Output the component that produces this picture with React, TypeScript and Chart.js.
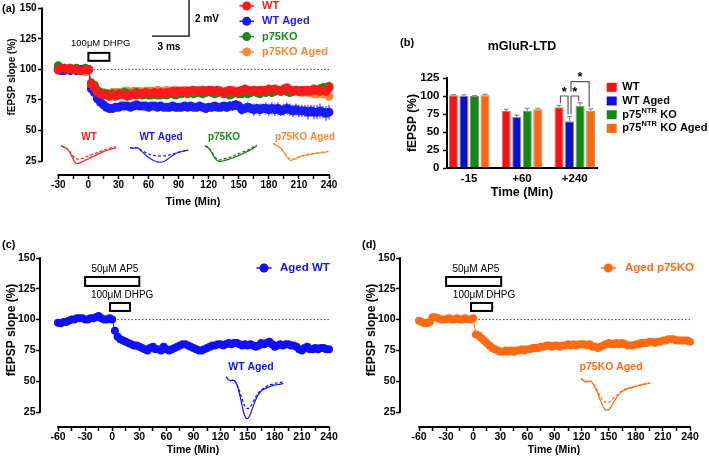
import React, { useEffect, useRef } from 'react';
import { Chart, registerables } from 'chart.js';

Chart.register(...registerables);

const FONT = '"Liberation Sans", Arial, Helvetica, sans-serif';

// ================= Panel (a): time course, four groups =================
const timeA = [-30, -27, -24, -21, -18, -15, -12, -9, -6, -3, 0, 3, 6, 9, 12, 15, 18, 21, 24, 27, 30, 33, 36, 39, 42, 45, 48, 51, 54, 57, 60, 63, 66, 69, 72, 75, 78, 81, 84, 87, 90, 93, 96, 99, 102, 105, 108, 111, 114, 117, 120, 123, 126, 129, 132, 135, 138, 141, 144, 147, 150, 153, 156, 159, 162, 165, 168, 171, 174, 177, 180, 183, 186, 189, 192, 195, 198, 201, 204, 207, 210, 213, 216, 219, 222, 225, 228, 231, 234, 237, 240];
const wtA = [100, 101, 101, 100, 101, 100, 100, 99, 99, 100, 100,
  88, 85, 81, 80, 79, 79, 78, 79, 78, 79,
  80, 79, 78, 79, 80, 79, 80, 80, 81, 80,
  80, 81, 80, 81, 80, 81, 81, 82, 81, 82,
  82, 81, 82, 82, 83, 82, 82, 83, 82, 83,
  83, 82, 83, 82, 80, 82, 83, 82, 81, 82,
  83, 84, 83, 82, 83, 82, 83, 82, 83, 84,
  83, 84, 83, 82, 84, 85, 83, 82, 83, 82,
  83, 82, 83, 82, 83, 83, 82, 83, 82, 85];
const wtAgedA = [100, 99, 99, 100, 99, 100, 99, 99, 100, 100, 100,
  84, 81, 76, 73, 71, 69, 68, 68, 69, 69,
  70, 70, 70, 69, 70, 71, 70, 70, 70, 69,
  70, 70, 69, 70, 69, 69, 69, 70, 69, 69,
  69, 70, 69, 70, 69, 69, 70, 69, 68, 69,
  69, 70, 69, 69, 70, 69, 70, 70, 71, 70,
  67, 68, 69, 68, 67, 68, 67, 68, 68, 67,
  68, 67, 68, 66, 67, 68, 67, 66, 67, 66,
  66, 66, 65, 66, 65, 65, 66, 65, 64, 65];
const p75A = [103, 101, 101, 100, 101, 100, 101, 100, 100, 101, 100,
  89, 87, 83, 81, 80, 80, 79, 80, 79, 80,
  80, 81, 80, 79, 80, 81, 80, 79, 80, 79,
  79, 80, 79, 79, 80, 79, 80, 80, 79, 80,
  80, 81, 80, 81, 80, 81, 81, 80, 81, 82,
  81, 80, 81, 82, 81, 80, 79, 80, 81, 80,
  80, 81, 80, 81, 82, 81, 80, 82, 81, 82,
  81, 82, 83, 82, 83, 82, 81, 82, 83, 82,
  82, 83, 82, 83, 84, 83, 84, 85, 85, 86];
const p75AgedA = [99, 100, 100, 100, 99, 100, 99, 100, 99, 98, 99,
  86, 83, 80, 80, 81, 80, 80, 81, 81, 81,
  81, 82, 82, 81, 82, 82, 82, 81, 82, 82,
  82, 82, 83, 82, 82, 83, 82, 82, 83, 82,
  82, 83, 82, 83, 82, 82, 83, 82, 82, 83,
  82, 82, 83, 82, 81, 82, 82, 83, 82, 82,
  82, 83, 82, 82, 83, 82, 82, 83, 82, 82,
  82, 83, 83, 82, 83, 82, 82, 83, 82, 82,
  81, 82, 81, 81, 80, 80, 81, 80, 80, 78];
const wtSemA = [1, 1, 1, 1, 1, 1, 1, 1, 1, 1, 1,
  3, 3, 2, 2, 2, 2, 2, 2, 2, 2,
  2, 2, 2, 2, 2, 2, 2, 2, 2, 2,
  2, 2, 2, 2, 2, 2, 2, 2, 2, 2,
  2, 2, 2, 2, 3, 2, 2, 2, 2, 3,
  2, 3, 2, 3, 3, 2, 3, 2, 3, 3,
  3, 3, 3, 3, 3, 3, 3, 3, 3, 3,
  3, 3, 3, 3, 3, 3, 3, 3, 3, 3,
  3, 3, 3, 3, 3, 3, 3, 3, 4, 4];
const wtAgedSemA = [1.5, 1.5, 1.5, 1.5, 1.5, 1.5, 1.5, 1.5, 1.5, 1.5, 1.5,
  3, 3, 3, 3, 3, 3, 3, 3, 3, 3,
  3, 3, 3, 3, 3, 3, 3, 3, 3, 3,
  3, 3, 3, 3, 3, 3, 3, 3, 3, 3,
  3, 3, 3, 3, 3, 3, 3, 3, 3, 3,
  3, 3, 3, 3, 3, 4, 4, 4, 4, 4,
  4, 4, 4, 4, 5, 4, 5, 4, 5, 5,
  5, 5, 5, 4, 5, 5, 5, 5, 5, 5,
  5, 5, 6, 5, 6, 6, 6, 5, 6, 6];
const p75SemA = [2, 1.5, 1.5, 1.5, 1.5, 1.5, 1.5, 1.5, 1.5, 1.5, 1.5,
  3, 3, 3, 2, 2, 2, 2, 2, 2, 2,
  2, 2, 2, 2, 2, 2, 2, 2, 2, 2,
  2, 2, 2, 2, 2, 2, 2, 2, 2, 2,
  2, 2, 2, 2, 2, 2, 2, 2, 2, 2,
  2, 2, 2, 2, 2, 2, 3, 3, 3, 3,
  3, 3, 3, 3, 3, 3, 3, 3, 3, 3,
  3, 3, 3, 3, 3, 3, 3, 3, 3, 3,
  3, 3, 3, 3, 3, 3, 4, 4, 4, 4];
const p75AgedSemA = [1.5, 1.5, 1.5, 1.5, 1.5, 1.5, 1.5, 1.5, 1.5, 1.5, 1.5,
  3, 3, 2, 2, 2, 2, 2, 2, 2, 2,
  2, 2, 2, 2, 2, 2, 2, 2, 2, 2,
  2, 2, 2, 2, 2, 2, 2, 2, 2, 2,
  2, 2, 2, 2, 2, 2, 2, 2, 2, 2,
  2, 2, 2, 2, 2, 2, 2, 2, 2, 2,
  2, 2, 2, 2, 2, 2, 2, 2, 2, 2,
  2, 2, 2, 2, 2, 2, 2, 2, 2, 2,
  2, 2, 2, 2, 3, 3, 3, 3, 3, 3];

// ================= Panel (b): bar summary =================
const groupsB = ['-15', '+60', '+240'];
const barWT = [101, 79, 84.5];
const barWTAged = [100.5, 71, 65];
const barP75 = [100, 80, 86.5];
const barP75Aged = [101, 81.5, 79.5];
const errWT = [1, 2.5, 2.5];
const errWTAged = [1, 2.5, 6.5];
const errP75 = [0.5, 3, 4];
const errP75Aged = [1.2, 1.5, 2.5];
const sigGroup = 2;
const sigLeft = [0, 1, 1];
const sigRight = [1, 2, 3];
const sigHeight = [100, 100, 120];

// ================= Panels (c), (d): aged time courses with AP5 =================
const timeCD = [-60, -57, -54, -51, -48, -45, -42, -39, -36, -33, -30, -27, -24, -21, -18, -15, -12, -9, -6, -3, 0, 3, 6, 9, 12, 15, 18, 21, 24, 27, 30, 33, 36, 39, 42, 45, 48, 51, 54, 57, 60, 63, 66, 69, 72, 75, 78, 81, 84, 87, 90, 93, 96, 99, 102, 105, 108, 111, 114, 117, 120, 123, 126, 129, 132, 135, 138, 141, 144, 147, 150, 153, 156, 159, 162, 165, 168, 171, 174, 177, 180, 183, 186, 189, 192, 195, 198, 201, 204, 207, 210, 213, 216, 219, 222, 225, 228, 231, 234, 237, 240];
const agedWtC = [97.5, 97, 98, 98, 99, 100, 100, 101, 101, 101, 100, 100, 101, 101, 102, 103, 101, 100, 100, 101, 100,
  91, 86, 84, 83, 82, 81, 80, 79, 79, 78,
  77, 76, 75, 77, 78, 76, 76, 75, 78, 76,
  75, 76, 77, 78, 79, 80, 80, 79, 78, 77,
  76, 75, 75, 76, 77, 78, 79, 79, 80, 80,
  79, 80, 81, 80, 81, 81, 80, 79, 80, 79,
  80, 79, 78, 79, 81, 80, 81, 82, 80, 78,
  79, 80, 79, 80, 80, 79, 79, 78, 76, 75,
  77, 78, 76, 76, 77, 76, 77, 77, 76, 76];
const agedP75D = [99, 98, 97, 97, 98, 102, 102, 101, 100, 100, 100, 101, 100, 100, 101, 100, 100, 101, 100, 100, 101,
  88, 87, 85, 83, 81, 79, 77, 76, 75, 74,
  74, 75, 74, 75, 74, 75, 75, 76, 75, 76,
  76, 77, 77, 77, 78, 78, 79, 79, 78, 79,
  79, 78, 79, 79, 80, 79, 80, 79, 80, 80,
  80, 79, 80, 78, 78, 77, 78, 79, 80, 81,
  80, 80, 81, 80, 81, 80, 79, 79, 79, 80,
  80, 81, 81, 81, 82, 82, 81, 82, 82, 83,
  83, 84, 84, 84, 83, 83, 83, 83, 83, 82];

// ================= ticks =================
const yTicksTC = [25, 50, 75, 100, 125, 150];
const xTicksA = [-30, -15, 0, 15, 30, 45, 60, 75, 90, 105, 120, 135, 150, 165, 180, 195, 210, 225, 240];
const xTicksCD = [-60, -45, -30, -15, 0, 15, 30, 45, 60, 75, 90, 105, 120, 135, 150, 165, 180, 195, 210, 225, 240];
const yTicksB = [0, 25, 50, 75, 100, 125];

// ================= representative fEPSP traces (normalised amplitude) =================
const trWTBase = [0, -0.09, -0.18, -0.51, -0.95, -0.98, -0.89, -0.8, -0.71, -0.62, -0.53, -0.44, -0.35, -0.27, -0.22, -0.16, -0.11];
const trWTLtd = [0, -0.09, -0.18, -0.45, -0.67, -0.75, -0.71, -0.64, -0.56, -0.49, -0.42, -0.35, -0.27, -0.2, -0.15, -0.09, -0.05];
const trWTAgedBase = [-0.06, -0.13, -0.02, -0.26, -0.47, -0.68, -0.83, -0.94, -1, -0.98, -0.87, -0.68, -0.51, -0.38, -0.32, -0.26, -0.21];
const trWTAgedLtd = [-0.06, -0.13, -0.02, -0.21, -0.34, -0.45, -0.53, -0.57, -0.6, -0.6, -0.57, -0.51, -0.45, -0.38, -0.32, -0.26, -0.21];
const trP75Base = [0, -0.1, -0.38, -0.79, -1, -0.98, -0.94, -0.88, -0.81, -0.73, -0.65, -0.56, -0.48, -0.38, -0.27, -0.15, 0];
const trP75Ltd = [0, -0.1, -0.33, -0.71, -0.9, -0.88, -0.83, -0.77, -0.71, -0.63, -0.54, -0.46, -0.38, -0.29, -0.19, -0.08, 0.04];
const trP75AgedBase = [0, -0.15, -0.21, -0.49, -0.81, -1, -0.92, -0.83, -0.75, -0.7, -0.66, -0.62, -0.58, -0.57, -0.53, -0.51, -0.47];
const trP75AgedLtd = [0, -0.15, -0.21, -0.45, -0.75, -0.92, -0.87, -0.79, -0.72, -0.66, -0.62, -0.58, -0.57, -0.53, -0.51, -0.49, -0.45];
const trCBase = [0, -0.11, -0.06, -0.15, -0.45, -0.87, -0.98, -0.82, -0.57, -0.39, -0.31, -0.26, -0.23, -0.2, -0.18, -0.17, -0.15];
const trCLtd = [0, -0.11, -0.06, -0.14, -0.38, -0.64, -0.74, -0.67, -0.49, -0.36, -0.29, -0.23, -0.19, -0.17, -0.14, -0.13, -0.11];
const trDBase = [0, -0.15, -0.05, -0.2, -0.5, -0.85, -1, -0.85, -0.6, -0.45, -0.35, -0.3, -0.27, -0.23, -0.2, -0.17, -0.15];
const trDLtd = [0, -0.15, -0.05, -0.18, -0.43, -0.67, -0.75, -0.67, -0.53, -0.42, -0.33, -0.29, -0.26, -0.22, -0.19, -0.16, -0.14];

// ================= colours =================
const RED = '#ff1a1a';
const BLUE = '#1a1aff';
const GREEN = '#1a8a1a';
const ORANGE = '#ff8533';
const BAR_RED = '#ff1010';
const BAR_BLUE = '#1010cc';
const BAR_GREEN = '#118a11';
const BAR_ORANGE = '#ff6610';
const BLUE_C = '#1010ff';
const ORANGE_D = '#ff6a12';

// ================= drawing helpers =================
function drawText(ctx: CanvasRenderingContext2D, s: string, x: number, y: number, size: number, o: any = {}) {
  ctx.save();
  ctx.font = `${o.weight ?? 'bold'} ${size}px ${FONT}`;
  ctx.fillStyle = o.color ?? '#000';
  ctx.textAlign = o.align ?? 'center';
  ctx.textBaseline = o.baseline ?? 'middle';
  ctx.translate(x, y);
  if (o.rotate) ctx.rotate(o.rotate);
  ctx.fillText(s, 0, 0);
  ctx.restore();
}

function drawTrace(ctx: CanvasRenderingContext2D, xs: any, ys: any, vals: number[], x0: number, x1: number, yTop: number, yBot: number, color: string, dashed: boolean) {
  const pts = vals.map((v, i) => [
    xs.getPixelForValue(x0 + ((x1 - x0) * i) / (vals.length - 1)),
    ys.getPixelForValue(yTop + v * (yTop - yBot)),
  ]);
  ctx.save();
  ctx.strokeStyle = color;
  ctx.lineWidth = 1.2;
  ctx.setLineDash(dashed ? [3, 2] : []);
  ctx.beginPath();
  ctx.moveTo(pts[0][0], pts[0][1]);
  for (let i = 1; i < pts.length - 1; i++) {
    const mx = (pts[i][0] + pts[i + 1][0]) / 2;
    const my = (pts[i][1] + pts[i + 1][1]) / 2;
    ctx.quadraticCurveTo(pts[i][0], pts[i][1], mx, my);
  }
  const last = pts[pts.length - 1];
  ctx.lineTo(last[0], last[1]);
  ctx.stroke();
  ctx.restore();
}

function drawBox(ctx: CanvasRenderingContext2D, xs: any, ys: any, xa: number, xb: number, ya: number, yb: number) {
  const l = xs.getPixelForValue(xa), r = xs.getPixelForValue(xb);
  const t = ys.getPixelForValue(yb), b = ys.getPixelForValue(ya);
  ctx.save();
  ctx.strokeStyle = '#000';
  ctx.lineWidth = 2;
  ctx.strokeRect(l, t, r - l, b - t);
  ctx.restore();
}

function legendMarker(ctx: CanvasRenderingContext2D, x: number, y: number, halfLen: number, r: number, color: string) {
  ctx.save();
  ctx.strokeStyle = color;
  ctx.fillStyle = color;
  ctx.lineWidth = 1.5;
  ctx.beginPath();
  ctx.moveTo(x - halfLen, y);
  ctx.lineTo(x + halfLen, y);
  ctx.stroke();
  ctx.beginPath();
  ctx.arc(x, y, r, 0, Math.PI * 2);
  ctx.fill();
  ctx.restore();
}

// ================= time-course chart config =================
function timeCourseConfig(p: any) {
  const xMin = p.xFirst - (p.xOffsetPx * (p.xMax - p.xFirst)) / (p.area.right - p.area.left - p.xOffsetPx);
  const yMin = p.yFirst - (p.yOffsetPx * (p.yMax - p.yFirst)) / (p.area.bottom - p.area.top - p.yOffsetPx);
  const plugin = {
    id: 'tcDecor',
    beforeDatasetsDraw(chart: any) {
      const ctx = chart.ctx, xs = chart.scales.x, ys = chart.scales.y;
      const yb = ys.getPixelForValue(100);
      ctx.save();
      ctx.strokeStyle = '#444';
      ctx.lineWidth = 1;
      ctx.setLineDash([1.5, 2]);
      ctx.beginPath();
      ctx.moveTo(xs.getPixelForValue(p.xFirst), yb);
      ctx.lineTo(xs.getPixelForValue(p.xMax), yb);
      ctx.stroke();
      ctx.restore();
    },
    beforeDatasetDraw(chart: any, args: any) {
      const s = p.series[args.index];
      if (!s || !s.sem) return;
      const ctx = chart.ctx, xs = chart.scales.x, ys = chart.scales.y;
      ctx.save();
      ctx.strokeStyle = s.color;
      ctx.lineWidth = 1;
      ctx.beginPath();
      p.times.forEach((t: number, i: number) => {
        const x = xs.getPixelForValue(t);
        ctx.moveTo(x, ys.getPixelForValue(s.data[i] - s.sem[i]));
        ctx.lineTo(x, ys.getPixelForValue(s.data[i] + s.sem[i]));
      });
      ctx.stroke();
      ctx.restore();
    },
    afterDraw(chart: any) {
      const ctx = chart.ctx, xs = chart.scales.x, ys = chart.scales.y;
      const L = chart.chartArea.left, B = chart.chartArea.bottom;
      ctx.save();
      ctx.strokeStyle = '#000';
      ctx.lineWidth = 2;
      ctx.beginPath();
      ctx.moveTo(L, ys.getPixelForValue(p.yMax) - 0.75);
      ctx.lineTo(L, ys.getPixelForValue(p.yFirst) + 0.75);
      ctx.stroke();
      ctx.beginPath();
      ctx.moveTo(xs.getPixelForValue(p.xFirst) - 0.75, B);
      ctx.lineTo(xs.getPixelForValue(p.xMax) + 0.75, B);
      ctx.stroke();
      ctx.restore();
      p.decorate(ctx, xs, ys);
    },
  };
  return {
    type: 'line',
    data: {
      datasets: p.series.map((s: any) => ({
        label: s.label,
        data: p.times.map((t: number, i: number) => ({ x: t, y: s.data[i] })),
        borderColor: s.color,
        backgroundColor: s.color,
        borderWidth: 1,
        pointRadius: p.pointRadius,
        pointHoverRadius: p.pointRadius,
        pointBorderWidth: 0,
        pointBackgroundColor: s.color,
        tension: 0,
        fill: false,
        clip: false,
      })),
    },
    options: {
      responsive: false,
      animation: false,
      devicePixelRatio: 1,
      events: [],
      layout: { padding: { left: 0, top: p.area.top, right: p.width - p.area.right, bottom: 0 } },
      plugins: { legend: { display: false }, tooltip: { enabled: false }, title: { display: false } },
      scales: {
        x: {
          type: 'linear',
          min: xMin,
          max: p.xMax,
          afterBuildTicks: (s: any) => { s.ticks = p.xTicks.map((v: number) => ({ value: v })); },
          afterFit: (s: any) => { s.height = p.height - p.area.bottom; },
          border: { display: false },
          grid: { drawOnChartArea: false, drawTicks: true, tickLength: 4, tickColor: '#000', tickWidth: 1.5 },
          ticks: {
            autoSkip: false, maxRotation: 0, minRotation: 0, padding: p.xTickPad, color: '#000',
            font: { family: FONT, size: p.xTickFont, weight: 'bold' },
            callback: (v: number) => (v % 30 === 0 ? String(v) : ''),
          },
        },
        y: {
          type: 'linear',
          min: yMin,
          max: p.yMax,
          afterBuildTicks: (s: any) => { s.ticks = yTicksTC.map((v) => ({ value: v })); },
          afterFit: (s: any) => { s.width = p.area.left; },
          border: { display: false },
          grid: { drawOnChartArea: false, drawTicks: true, tickLength: 4, tickColor: '#000', tickWidth: 1.5 },
          ticks: { padding: p.yTickPad, color: '#000', font: { family: FONT, size: p.yTickFont, weight: 'bold' } },
        },
      },
    },
    plugins: [plugin],
  };
}

// ---------- panel (a) ----------
const seriesA = [
  { label: 'WT', data: wtA, sem: wtSemA, color: RED },
  { label: 'WT Aged', data: wtAgedA, sem: wtAgedSemA, color: BLUE },
  { label: 'p75KO', data: p75A, sem: p75SemA, color: GREEN },
  { label: 'p75KO Aged', data: p75AgedA, sem: p75AgedSemA, color: ORANGE },
];

function makeA() {
  return timeCourseConfig({
    width: 355, height: 215,
    area: { left: 42, top: 8.3, right: 329, bottom: 175 },
    xFirst: -30, xMax: 240, xOffsetPx: 16.3,
    yFirst: 25, yMax: 150, yOffsetPx: 14,
    xTicks: xTicksA, xTickFont: 10, yTickFont: 10, xTickPad: 0, yTickPad: 1.5,
    pointRadius: 4.5,
    times: timeA,
    series: seriesA,
    decorate: (ctx: CanvasRenderingContext2D, xs: any, ys: any) => {
      drawText(ctx, '(a)', 2, 8.5, 11, { align: 'left' });
      drawText(ctx, 'fEPSP slope (%)', 12, 77, 10, { rotate: -Math.PI / 2 });
      drawText(ctx, 'Time (Min)', 193, 202, 11);
      seriesA.forEach((s, i) => {
        const y = 6 + i * 15.3;
        legendMarker(ctx, 246.7, y, 7.3, 4.5, s.color);
        drawText(ctx, s.label, 262, y, 11, { align: 'left', color: s.color });
      });
      // DHPG application
      drawBox(ctx, xs, ys, 0, 21, 107, 113.5);
      drawText(ctx, '100\u03bcM DHPG', xs.getPixelForValue(12.3), ys.getPixelForValue(121.3), 9.5, { weight: 'normal' });
      // scale bar
      ctx.save();
      ctx.strokeStyle = '#000';
      ctx.lineWidth = 1.3;
      ctx.beginPath();
      ctx.moveTo(xs.getPixelForValue(100.4), 0);
      ctx.lineTo(xs.getPixelForValue(100.4), ys.getPixelForValue(127.3));
      ctx.lineTo(xs.getPixelForValue(63.5), ys.getPixelForValue(127.3));
      ctx.stroke();
      ctx.restore();
      drawText(ctx, '2 mV', xs.getPixelForValue(106.4), ys.getPixelForValue(141.2), 10, { align: 'left' });
      drawText(ctx, '3 ms', xs.getPixelForValue(80.4), ys.getPixelForValue(118.3), 10);
      // representative traces
      const insets = [
        { name: 'WT', base: trWTBase, ltd: trWTLtd, x0: -27.3, x1: 27.6, top: 37.5, bot: 22.5, lx: 0.6, color: RED },
        { name: 'WT Aged', base: trWTAgedBase, ltd: trWTAgedLtd, x0: 41.5, x1: 99.6, top: 36.7, bot: 23.9, lx: 72.5, color: '#2222dd' },
        { name: 'p75KO', base: trP75Base, ltd: trP75Ltd, x0: 116.3, x1: 167.9, top: 37.5, bot: 24.5, lx: 135.3, color: '#1a701a' },
        { name: 'p75KO Aged', base: trP75AgedBase, ltd: trP75AgedLtd, x0: 184.5, x1: 239.3, top: 39.5, bot: 25, lx: 216, color: ORANGE },
      ];
      insets.forEach((t) => {
        drawTrace(ctx, xs, ys, t.base, t.x0, t.x1, t.top, t.bot, t.color, false);
        drawTrace(ctx, xs, ys, t.ltd, t.x0, t.x1, t.top, t.bot, t.color, true);
        const lc = t.name === 'WT Aged' ? BLUE : t.name === 'p75KO' ? GREEN : t.color;
        drawText(ctx, t.name, xs.getPixelForValue(t.lx), ys.getPixelForValue(44.6), 10, { color: lc });
      });
    },
  });
}

// ---------- panels (c) and (d) ----------
function makeCD(which: 'c' | 'd') {
  const isC = which === 'c';
  const color = isC ? BLUE_C : ORANGE_D;
  const label = isC ? 'Aged WT' : 'Aged p75KO';
  return timeCourseConfig({
    width: isC ? 355 : 349, height: 231,
    area: { left: 40, top: 30, right: isC ? 329 : 330, bottom: 199 },
    xFirst: -60, xMax: 240, xOffsetPx: isC ? 18 : 19,
    yFirst: 25, yMax: 150, yOffsetPx: 15,
    xTicks: xTicksCD, xTickFont: 10.5, yTickFont: 10.5, xTickPad: 0, yTickPad: 0.5,
    pointRadius: 4,
    times: timeCD,
    series: [{ label, data: isC ? agedWtC : agedP75D, color }],
    decorate: (ctx: CanvasRenderingContext2D, xs: any, ys: any) => {
      drawText(ctx, isC ? '(c)' : '(d)', 2, 17, 11, { align: 'left' });
      drawText(ctx, 'fEPSP slope (%)', 12, 102, 12, { rotate: -Math.PI / 2 });
      drawText(ctx, 'Time (Min)', isC ? 193 : 194, 222, 10.5);
      const mx = isC ? 264 : 248.3;
      legendMarker(ctx, mx, 40, 7.5, 4.5, color);
      drawText(ctx, label, isC ? 280 : 265, 40, 11.5, { align: 'left', color });
      // AP5 and DHPG applications
      drawBox(ctx, xs, ys, -30, isC ? 30 : 31, 127.3, 134.6);
      drawText(ctx, '50\u03bcM AP5', xs.getPixelForValue(3), ys.getPixelForValue(141), 10, { weight: 'normal' });
      drawBox(ctx, xs, ys, -2.4, isC ? 19.7 : 21, 107, 113.5);
      drawText(ctx, '100\u03bcM DHPG', xs.getPixelForValue(isC ? 11 : 12), ys.getPixelForValue(119.7), 10, { weight: 'normal' });
      // representative traces
      if (isC) {
        drawTrace(ctx, xs, ys, trCBase, 126, 189.4, 53.6, 17.8, color, false);
        drawTrace(ctx, xs, ys, trCLtd, 126, 189.4, 53.6, 17.8, color, true);
        drawText(ctx, 'WT Aged', xs.getPixelForValue(153.7), ys.getPixelForValue(61.5), 10.5, { color });
      } else {
        drawTrace(ctx, xs, ys, trDBase, 119.5, 195.9, 52.4, 25.2, color, false);
        drawTrace(ctx, xs, ys, trDLtd, 119.5, 195.9, 52.4, 25.2, color, true);
        drawText(ctx, 'p75KO Aged', xs.getPixelForValue(152.6), ys.getPixelForValue(61.5), 10.5, { color });
      }
    },
  });
}

// ---------- panel (b) ----------
const seriesB = [
  { label: 'WT', values: barWT, err: errWT, color: BAR_RED },
  { label: 'WT Aged', values: barWTAged, err: errWTAged, color: BAR_BLUE },
  { label: 'p75 KO', values: barP75, err: errP75, color: BAR_GREEN },
  { label: 'p75 KO Aged', values: barP75Aged, err: errP75Aged, color: BAR_ORANGE },
];

function makeB() {
  const W = 349, H = 228;
  const area = { left: 87, top: 78, right: 237, bottom: 168 };
  const plugin = {
    id: 'barDecor',
    afterDatasetsDraw(chart: any) {
      const ctx = chart.ctx, ys = chart.scales.y;
      ctx.save();
      ctx.strokeStyle = '#8a8a8a';
      ctx.lineWidth = 1.2;
      seriesB.forEach((s, di) => {
        const meta = chart.getDatasetMeta(di);
        meta.data.forEach((el: any, j: number) => {
          const y0 = ys.getPixelForValue(s.values[j]);
          const y1 = ys.getPixelForValue(s.values[j] + s.err[j]);
          ctx.beginPath();
          ctx.moveTo(el.x, y0);
          ctx.lineTo(el.x, y1);
          ctx.moveTo(el.x - 2.5, y1);
          ctx.lineTo(el.x + 2.5, y1);
          ctx.stroke();
        });
      });
      ctx.restore();
      // significance brackets
      const legBottom = (bar: number, k: number) => {
        let v = seriesB[bar].values[sigGroup] + seriesB[bar].err[sigGroup] + 3;
        sigHeight.forEach((h, m) => {
          if (m !== k && h < sigHeight[k] && sigLeft[m] <= bar && bar <= sigRight[m]) v = Math.max(v, h + 6);
        });
        return v;
      };
      ctx.save();
      ctx.strokeStyle = '#555';
      ctx.lineWidth = 1.2;
      sigHeight.forEach((h, k) => {
        const a = sigLeft[k], b = sigRight[k];
        const xa = chart.getDatasetMeta(a).data[sigGroup].x + 1.5;
        const xb = chart.getDatasetMeta(b).data[sigGroup].x - 1.5;
        const yh = ys.getPixelForValue(h);
        ctx.beginPath();
        ctx.moveTo(xa, ys.getPixelForValue(legBottom(a, k)));
        ctx.lineTo(xa, yh);
        ctx.lineTo(xb, yh);
        ctx.lineTo(xb, ys.getPixelForValue(legBottom(b, k)));
        ctx.stroke();
        drawText(ctx, '*', (xa + xb) / 2, yh - 0.5, 13, { baseline: 'alphabetic' });
      });
      ctx.restore();
    },
    afterDraw(chart: any) {
      const ctx = chart.ctx;
      drawText(ctx, '(b)', 40, 43, 11, { align: 'left' });
      drawText(ctx, 'mGluR-LTD', 162, 47, 12.5);
      drawText(ctx, 'fEPSP (%)', 53, 123, 12, { rotate: -Math.PI / 2 });
      drawText(ctx, 'Time (Min)', 162, 193, 12.5);
      seriesB.forEach((s, i) => {
        const y = 87.3 + i * 13.7;
        ctx.save();
        ctx.fillStyle = s.color;
        ctx.fillRect(246.7, y - 4.5, 10, 9);
        ctx.restore();
        const x0 = 262.3;
        if (i < 2) {
          drawText(ctx, s.label, x0, y, 11, { align: 'left' });
        } else {
          ctx.save();
          ctx.font = `bold 11px ${FONT}`;
          const w1 = ctx.measureText('p75').width;
          ctx.font = `bold 7.5px ${FONT}`;
          const w2 = ctx.measureText('NTR').width;
          ctx.restore();
          drawText(ctx, 'p75', x0, y, 11, { align: 'left' });
          drawText(ctx, 'NTR', x0 + w1 + 0.3, y - 4, 7.5, { align: 'left' });
          drawText(ctx, i === 2 ? ' KO' : ' KO Aged', x0 + w1 + w2 + 0.6, y, 11, { align: 'left' });
        }
      });
    },
  };
  return {
    type: 'bar',
    data: {
      datasets: seriesB.map((s) => ({
        label: s.label,
        data: s.values.map((v, i) => ({ x: i, y: v })),
        backgroundColor: s.color,
        borderColor: '#8c8c8c',
        borderWidth: 1,
        categoryPercentage: 0.8,
        barPercentage: 0.86,
      })),
    },
    options: {
      responsive: false,
      animation: false,
      devicePixelRatio: 1,
      events: [],
      layout: { padding: { left: 0, top: area.top, right: W - area.right, bottom: 0 } },
      plugins: { legend: { display: false }, tooltip: { enabled: false }, title: { display: false } },
      scales: {
        x: {
          type: 'linear',
          min: -0.42,
          max: 2.42,
          offset: false,
          afterBuildTicks: (s: any) => { s.ticks = groupsB.map((_, i) => ({ value: i })); },
          afterFit: (s: any) => { s.height = H - area.bottom; },
          border: { display: true, color: '#000', width: 2 },
          grid: { display: false, drawTicks: false, tickLength: 0, offset: false },
          ticks: {
            autoSkip: false, maxRotation: 0, minRotation: 0, padding: 4, color: '#000',
            font: { family: FONT, size: 11.5, weight: 'bold' },
            callback: (v: number) => groupsB[v] ?? '',
          },
        },
        y: {
          type: 'linear',
          min: 0,
          max: 125,
          afterBuildTicks: (s: any) => { s.ticks = yTicksB.map((v) => ({ value: v })); },
          afterFit: (s: any) => { s.width = area.left; },
          border: { display: true, color: '#000', width: 2 },
          grid: { drawOnChartArea: false, drawTicks: true, tickLength: 4, tickColor: '#000', tickWidth: 1.5 },
          ticks: { padding: 3.5, color: '#000', font: { family: FONT, size: 11.5, weight: 'bold' } },
        },
      },
    },
    plugins: [plugin],
  };
}

function ChartCanvas(props: { left: number; top: number; width: number; height: number; make: () => any }) {
  const ref = useRef<HTMLCanvasElement>(null);
  useEffect(() => {
    const chart = new Chart(ref.current as HTMLCanvasElement, props.make());
    return () => chart.destroy();
  }, []);
  return (
    <canvas
      ref={ref}
      width={props.width}
      height={props.height}
      style={{ position: 'absolute', left: props.left, top: props.top, width: props.width, height: props.height }}
    />
  );
}

export default function App() {
  return (
    <div style={{ position: 'absolute', left: 0, top: 0, width: 709, height: 459, background: '#fff', overflow: 'hidden' }}>
      <ChartCanvas left={0} top={0} width={355} height={215} make={makeA} />
      <ChartCanvas left={360} top={0} width={349} height={228} make={makeB} />
      <ChartCanvas left={0} top={228} width={355} height={231} make={() => makeCD('c')} />
      <ChartCanvas left={360} top={228} width={349} height={231} make={() => makeCD('d')} />
    </div>
  );
}
